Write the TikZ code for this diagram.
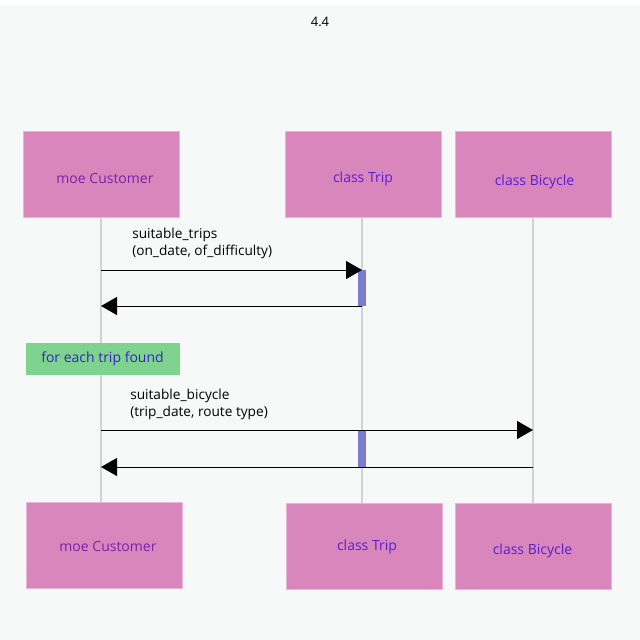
\documentclass[tikz,border=0pt]{standalone}
\usepackage{fontspec}
\setmainfont{Open Sans}
\usetikzlibrary{arrows.meta}
\definecolor{canvas}{HTML}{F7F9F9}
\definecolor{objfill}{HTML}{D886BC}
\definecolor{objedge}{HTML}{E9B4DA}
\definecolor{custtext}{HTML}{7A22AA}
\definecolor{classtext}{HTML}{5A1ED2}
\definecolor{loopfill}{HTML}{7ED48E}
\definecolor{looptext}{HTML}{3A22C4}
\definecolor{actfill}{HTML}{7B7BD2}
\definecolor{lifeline}{HTML}{D2D2D2}
\tikzset{
  objbox/.style={draw=objedge, line width=0.75pt, fill=objfill, minimum width=117pt, minimum height=64.5pt, inner sep=0pt},
  objname/.style={inner sep=0pt, font=\fontsize{10.5}{12}\selectfont},
  looptag/.style={fill=loopfill, minimum width=115.5pt, minimum height=24pt, inner sep=0pt, text=looptext, font=\fontsize{10.5}{12}\selectfont},
  actbar/.style={fill=actfill, minimum width=6pt, inner sep=0pt},
  life/.style={draw=lifeline, line width=1.1pt},
  msg/.style={draw=black, line width=0.75pt, -{Triangle[length=12pt,width=13.5pt]}},
  msglabel/.style={anchor=north west, align=left, inner sep=0pt, font=\fontsize{10.25}{12.75}\selectfont}
}
\begin{document}
\begin{tikzpicture}[x=0.75pt,y=-0.75pt]
  \useasboundingbox (0,0) rectangle (640,640);
  \fill[white] (0,0) rectangle (640,640);
  \fill[canvas] (0,5) rectangle (640,640);

  \node[font=\fontsize{9.75}{12}\selectfont] (title) at (320,22) {4.4};

  % participants, top row
  \node[objbox] (cust) at (101.5,174) {};
  \node[objbox] (trip) at (363.5,174) {};
  \node[objbox] (bike) at (533,174) {};
  \node[objname, text=custtext] (custN) at (105,178) {moe Customer};
  \node[objname, text=classtext] (tripN) at (363,178.5) {class Trip};
  \node[objname, text=classtext] (bikeN) at (534.5,181.5) {class Bicycle};

  % participants, bottom row
  \node[objbox] (custB) at (104.5,545) {};
  \node[objbox] (tripB) at (364.5,546) {};
  \node[objbox] (bikeB) at (533.5,546) {};
  \node[objname, text=custtext] (custBN) at (108,546) {moe Customer};
  \node[objname, text=classtext] (tripBN) at (367,546.5) {class Trip};
  \node[objname, text=classtext] (bikeBN) at (532.5,550.5) {class Bicycle};

  % lifelines
  \draw[life] (101,217) coordinate (custL) -- (101,502) coordinate (custLB);
  \draw[life] (362,217) coordinate (tripL) -- (362,503) coordinate (tripLB);
  \draw[life] (533,217) coordinate (bikeL) -- (533,503) coordinate (bikeLB);

  % activations on class Trip
  \node[actbar, minimum height=27pt] (act1) at (362,288) {};
  \node[actbar, minimum height=27.75pt] (act2) at (362,448.5) {};

  % first call and its return
  \coordinate (c1) at (101,270);
  \coordinate (t1) at (362,270);
  \coordinate (t1r) at (362,306);
  \coordinate (c1r) at (101,306);
  \node[msglabel] (lab1) at (132,228) {suitable\_trips\\(on\_date, of\_difficulty)};
  \draw[msg] (c1) -- (t1);
  \draw[msg] (t1r) -- (c1r);

  % loop marker
  \node[looptag] (loop) at (102.5,358.5) {for each trip found};

  % second call and its return
  \coordinate (c2) at (101,430);
  \coordinate (b2) at (533,430);
  \coordinate (b2r) at (533,467);
  \coordinate (c2r) at (101,467);
  \node[msglabel] (lab2) at (130,389) {suitable\_bicycle\\(trip\_date, route type)};
  \draw[msg] (c2) -- (b2);
  \draw[msg] (b2r) -- (c2r);
\end{tikzpicture}
\end{document}
